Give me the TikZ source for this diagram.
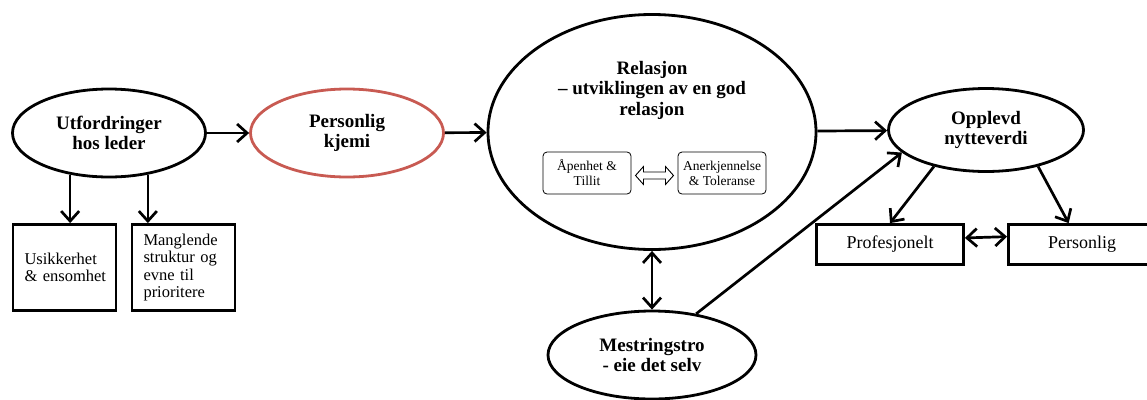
\documentclass[tikz,border=0pt]{standalone}
\usepackage{fontspec}
\setmainfont{Liberation Serif}
\usepackage{tikz}
\usetikzlibrary{calc, shapes.geometric, arrows.meta, positioning}
\definecolor{kjemired}{RGB}{200,90,82}

\begin{document}
\begin{tikzpicture}[x=1pt, y=-1pt,
		oval/.style={ellipse, draw=black, line width=2.8pt, inner sep=0pt, align=center, font=\fontsize{19}{20.5}\selectfont\bfseries},
		box/.style={rectangle, draw=black, line width=2.8pt, inner sep=0pt},
		inbox/.style={rectangle, rounded corners=4pt, draw=black, line width=0.8pt, inner sep=0pt, align=center, font=\fontsize{13.5}{15}\selectfont},
		arr/.style={-{Straight Barb[length=10pt, width=18pt]}, line width=2.7pt},
		arrboth/.style={{Straight Barb[length=10pt, width=18pt]}-{Straight Barb[length=10pt, width=18pt]}, line width=2.7pt}]
		\useasboundingbox (0,0) rectangle (1147,399);
		% ovals
		\node[oval, minimum width=193, minimum height=88] (utf) at (109,133) {Utfordringer\\hos leder};
		\node[oval, draw=kjemired, minimum width=193, minimum height=88] (kjemi) at (347,133) {Personlig\\kjemi};
		\node[oval, minimum width=328, minimum height=235] (rel) at (652,132) {};
		\node[align=center, font=\fontsize{19}{20.5}\selectfont\bfseries] (reltxt) at (652,90) {Relasjon\\-- utviklingen av en god\\relasjon};
		\node[oval, minimum width=195, minimum height=83] (nytte) at (986,130) {Opplevd\\nytteverdi};
		\node[oval, minimum width=208, minimum height=88] (mestr) at (652,355) {Mestringstro\\- eie det selv};
		% inner boxes
		\node[inbox, minimum width=88, minimum height=42] (open) at (587,173) {Åpenhet \&\\Tillit};
		\node[inbox, minimum width=88, minimum height=42] (anerk) at (722,173) {Anerkjennelse\\\& Toleranse};
		\coordinate (dbl) at ($(open.east)!0.5!(anerk.west)+(0,2.5)$);
		\draw[line width=0.9pt, line join=miter] ([xshift=-19]dbl) -- ++(8,-9) -- ++(0,5.5) -- ++(22,0) -- ++(0,-5.5) -- ++(8,9) -- ++(-8,9) -- ++(0,-5.5) -- ++(-22,0) -- ++(0,5.5) -- cycle;
		% boxes
		\foreach \x/\alph/\name in {
			64.5/usikker/{Usikkerhet\\\mbox{\& ensomhet}},
			183.5/mangl/{Manglende\\struktur og\\evne til\\prioritere}
		}{
			\node[box, minimum width=102, minimum height=86, text width=80, inner xsep=11.5, align=left, font=\fontsize{16.5}{17.5}\selectfont] (\alph) at (\x,267.5) {\name};
		}
		\foreach \x/\alph/\name in {
			890/prof/{Profesjonelt},
			1082/pers/{Personlig}
		}{
			\node[box, minimum width=147, minimum height=40, font=\fontsize{18}{20}\selectfont] (\alph) at (\x,244.5) {\name};
		}
		% connectors
		\draw[arr] (utf) -- (kjemi);
		\draw[arr] (kjemi) -- (rel);
		\draw[arr] (rel) -- (nytte);
		\draw[arr] (utf.-133) -- (utf.-133 |- usikker.north);
		\draw[arr] (utf.-47) -- (utf.-47 |- mangl.north);
		\draw[arrboth] (rel) -- (mestr);
		\draw[arr] (mestr.43) -- (nytte.195);
		\draw[arr] (nytte.-145) -- (prof.north);
		\draw[arr] (nytte.-35) -- (pers.122);
		\draw[arrboth] (prof.5.7) -- (pers.174.3);
\end{tikzpicture}
\end{document}
